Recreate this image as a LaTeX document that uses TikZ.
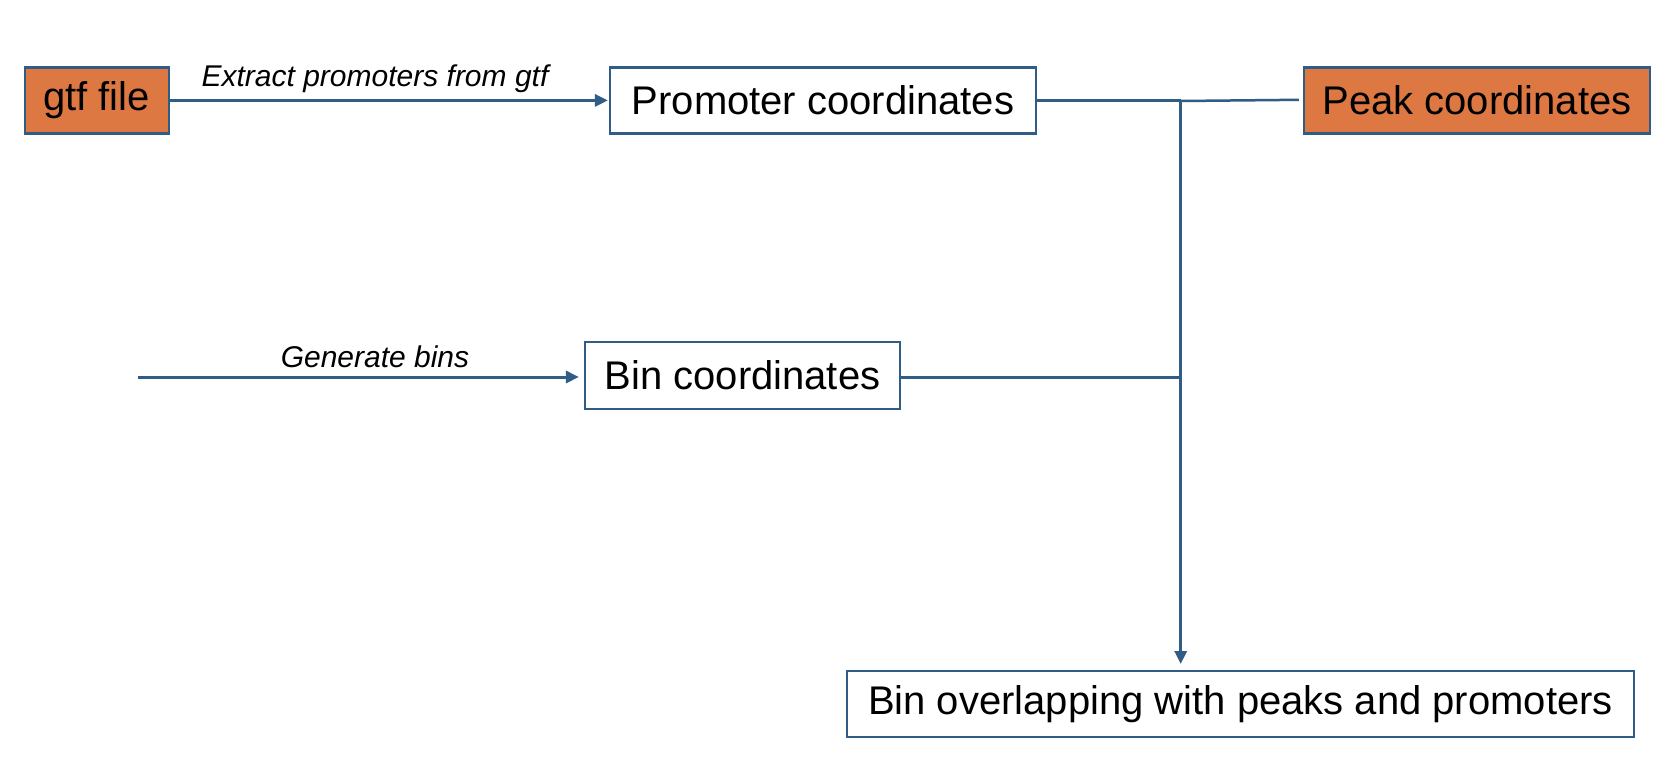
\documentclass[tikz,border=0pt]{standalone}
\usepackage{fontspec}
\setmainfont{Liberation Sans}
\usetikzlibrary{arrows.meta}
\definecolor{boxorange}{HTML}{DD7843}
\definecolor{lineblue}{HTML}{2F5D85}
\tikzset{
  box/.style={draw=lineblue, line width=2.2pt, inner sep=0pt, font=\fontsize{40}{44}\selectfont, text=black},
  filebox/.style={box, fill=boxorange},
  plainbox/.style={box, fill=white},
  conn/.style={draw=lineblue, line width=3pt},
  arr/.style={conn, -{Triangle[length=13pt,width=12pt]}},
  lbl/.style={font=\fontsize{30}{34}\selectfont\itshape, text=black, inner sep=0pt}
}
\begin{document}
\begin{tikzpicture}[x=1pt,y=-1pt]
\useasboundingbox[fill=white] (0,0) rectangle (1674,764);
\node[filebox, minimum width=144pt, minimum height=66pt] (gtf) at (96.6,100.4) {gtf file};
\node[plainbox, minimum width=426pt, minimum height=66pt] (prom) at (823,100.4) {Promoter coordinates};
\node[filebox, minimum width=346pt, minimum height=66pt] (peak) at (1477,100.4) {Peak coordinates};
\node[plainbox, minimum width=315pt, minimum height=67pt] (bin) at (742.5,375.5) {Bin coordinates};
\node[plainbox, minimum width=787pt, minimum height=66pt] (ovl) at (1240.5,704) {Bin overlapping with peaks and promoters};
\coordinate (gstart) at (138,377);
\coordinate (j1) at (1180.7,100.6);
\coordinate (j2) at (1180.7,377);
\coordinate (jend) at (1180.7,664);
% arrows
\draw[arr, shorten >=1pt] (gtf.east) -- (prom.west);
\node[lbl] (l1) at (375,79) {Extract promoters from gtf};
\draw[arr, shorten >=5pt] (gstart) -- (gstart -| bin.west);
\node[lbl] (l2) at (375,357) {Generate bins};
\draw[conn] (prom.east |- j1) -- (j1);
\draw[conn, line width=2.5pt] (j1 |- peak.west) ++(0,0.6) -- ([xshift=-4pt,yshift=0.6pt]peak.west);
\draw[conn] (bin.east |- j2) -- (j2);
\draw[arr] ([yshift=-1.5pt]j1) -- (jend);
\end{tikzpicture}
\end{document}
